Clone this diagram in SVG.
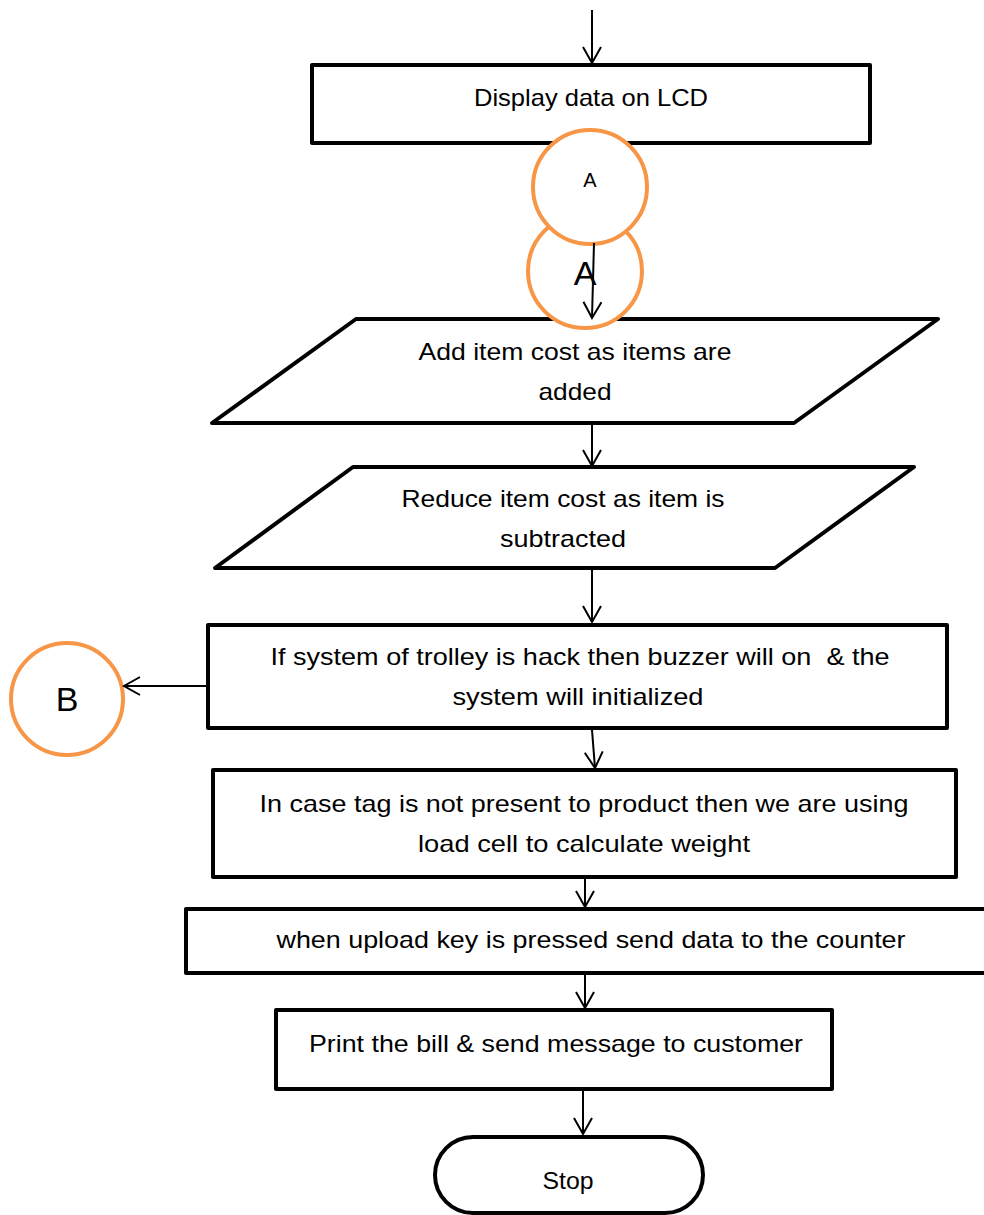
<svg xmlns="http://www.w3.org/2000/svg" width="984" height="1215" viewBox="0 0 984 1215">
<style>
.box{fill:#fff;stroke:#000;stroke-width:4;stroke-linejoin:round}
.conn{fill:#fff;stroke:#F79646;stroke-width:4}
.t{font-family:"Liberation Sans",Arial,sans-serif;font-size:24px;fill:#000;text-anchor:middle}
.c{fill:none;stroke:#000;stroke-width:2}
</style>
<defs>
<marker id="ah" viewBox="0 0 16 18" refX="16" refY="9" markerWidth="16" markerHeight="18" markerUnits="userSpaceOnUse" orient="auto" overflow="visible">
<path d="M0,0 L16,9 L0,18" fill="none" stroke="#000" stroke-width="2"/>
</marker>
</defs>
<rect width="984" height="1215" fill="#fff"/>
<g id="display">
<rect class="box" x="312" y="65" width="558" height="78"/>
<text class="t" x="591" y="106" textLength="234" lengthAdjust="spacingAndGlyphs">Display data on LCD</text>
</g>
<g id="add-cost">
<polygon class="box" points="356,319 938,319 794,423 212,423"/>
<text class="t" x="575" y="360" textLength="313" lengthAdjust="spacingAndGlyphs">Add item cost as items are</text>
<text class="t" x="575" y="400" textLength="73" lengthAdjust="spacingAndGlyphs">added</text>
</g>
<g id="connector-A2">
<circle class="conn" cx="585" cy="271" r="57"/>
<text class="t" x="585" y="285" style="font-size:34px">A</text>
</g>
<g id="connector-A1">
<circle class="conn" cx="590" cy="187" r="57"/>
<text class="t" x="590" y="187" style="font-size:20px">A</text>
</g>
<g id="reduce-cost">
<polygon class="box" points="353,467 914,467 775,568 215,568"/>
<text class="t" x="563" y="507" textLength="323" lengthAdjust="spacingAndGlyphs">Reduce item cost as item is</text>
<text class="t" x="563" y="547" textLength="126" lengthAdjust="spacingAndGlyphs">subtracted</text>
</g>
<g id="hack">
<rect class="box" x="208" y="625" width="739" height="103"/>
<text class="t" x="580" y="665" textLength="619" lengthAdjust="spacingAndGlyphs" xml:space="preserve" style="white-space:pre">If system of trolley is hack then buzzer will on  &amp; the</text>
<text class="t" x="578" y="705" textLength="251" lengthAdjust="spacingAndGlyphs">system will initialized</text>
</g>
<g id="connector-B">
<circle class="conn" cx="67" cy="699" r="56"/>
<text class="t" x="67" y="711" style="font-size:34px">B</text>
</g>
<g id="load-cell">
<rect class="box" x="213" y="770" width="743" height="107"/>
<text class="t" x="584" y="812" textLength="649" lengthAdjust="spacingAndGlyphs">In case tag is not present to product then we are using</text>
<text class="t" x="584" y="852" textLength="332" lengthAdjust="spacingAndGlyphs">load cell to calculate weight</text>
</g>
<g id="upload">
<rect class="box" x="186" y="909" width="800" height="64"/>
<text class="t" x="591" y="948" textLength="629" lengthAdjust="spacingAndGlyphs">when upload key is pressed send data to the counter</text>
</g>
<g id="print">
<rect class="box" x="276" y="1010" width="556" height="79"/>
<text class="t" x="556" y="1052" textLength="494" lengthAdjust="spacingAndGlyphs">Print the bill &amp; send message to customer</text>
</g>
<g id="stop">
<rect class="box" x="435" y="1137" width="268" height="76" rx="38" ry="38"/>
<text class="t" x="568" y="1189" textLength="51" lengthAdjust="spacingAndGlyphs">Stop</text>
</g>
<g id="connectors">
<line class="c" x1="592" y1="10" x2="592" y2="63" marker-end="url(#ah)"/>
<line class="c" x1="594" y1="243" x2="592" y2="318" marker-end="url(#ah)"/>
<line class="c" x1="592" y1="425" x2="592" y2="466" marker-end="url(#ah)"/>
<line class="c" x1="592" y1="570" x2="592" y2="622" marker-end="url(#ah)"/>
<line class="c" x1="206" y1="686" x2="124" y2="686" marker-end="url(#ah)"/>
<line class="c" x1="592" y1="730" x2="595" y2="768" marker-end="url(#ah)"/>
<line class="c" x1="585" y1="879" x2="585" y2="907" marker-end="url(#ah)"/>
<line class="c" x1="585" y1="975" x2="585" y2="1008" marker-end="url(#ah)"/>
<line class="c" x1="583" y1="1091" x2="583" y2="1134" marker-end="url(#ah)"/>
</g>
</svg>
